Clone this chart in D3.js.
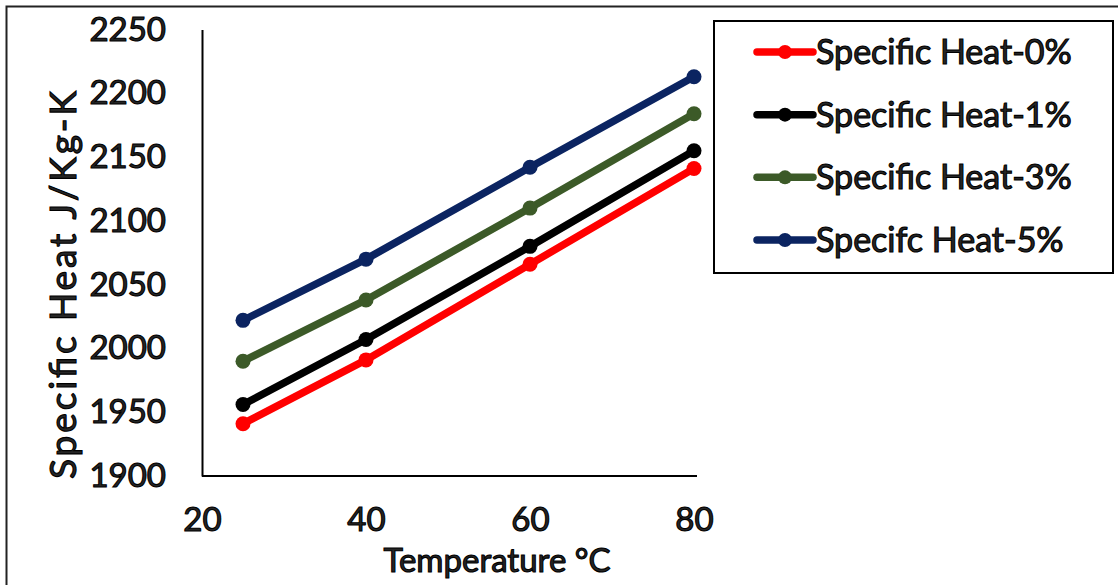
<!DOCTYPE html>
<html>
<head>
<meta charset="utf-8">
<script src="https://cdn.jsdelivr.net/npm/d3@7"></script>
<style>
  html, body { margin: 0; padding: 0; background: #fff; }
  svg { display: block; }
  text { font-family: Lato, "Open Sans", sans-serif; }
</style>
</head>
<body>
<svg id="chart" width="1118" height="585"></svg>
<script>
const temperatures = [25, 40, 60, 80];
const seriesNames = ["Specific Heat-0%", "Specific Heat-1%", "Specific Heat-3%", "Specifc Heat-5%"];
const heat0 = [1941, 1991, 2066, 2141];
const heat1 = [1956, 2007, 2080, 2155];
const heat3 = [1990, 2038, 2110, 2184];
const heat5 = [2022, 2070, 2142, 2213];
const seriesColors = ["#ff0000", "#000000", "#3c5a28", "#0b2461"];
const xTicks = [20, 40, 60, 80];
const yTicks = [1900, 1950, 2000, 2050, 2100, 2150, 2200, 2250];

const seriesValues = [heat0, heat1, heat3, heat5];

const svg = d3.select("#chart");

// outer frame
svg.append("rect").attr("x", 6.5).attr("y", 6.5).attr("width", 1130).attr("height", 600)
  .attr("fill", "none").attr("stroke", "#222").attr("stroke-width", 2);

const x = d3.scaleLinear().domain([20, 80]).range([202, 694]);
const y = d3.scaleLinear().domain([1900, 2250]).range([476, 29.5]);

const textStyle = sel => sel.attr("fill", "#262626").attr("stroke", "#000").attr("stroke-width", 1.1);

// axes
const xAxis = svg.append("g").attr("transform", "translate(0,476)")
  .call(d3.axisBottom(x).tickValues(xTicks).tickSize(0).tickPadding(32).tickFormat(d3.format("d")));
xAxis.select(".domain").attr("stroke", "#000").attr("stroke-width", 2).attr("d", "M202,0H697");
xAxis.selectAll("text").attr("font-size", 33).call(textStyle);

const yAxis = svg.append("g").attr("transform", "translate(202,0)")
  .call(d3.axisLeft(y).tickValues(yTicks).tickSize(0).tickPadding(36).tickFormat(d3.format("d")));
yAxis.select(".domain").attr("stroke", "#000").attr("stroke-width", 2);
yAxis.selectAll("text").attr("font-size", 33).call(textStyle);

// axis titles
svg.append("text").attr("x", 497).attr("y", 572).attr("text-anchor", "middle")
  .attr("font-size", 33).text("Temperature \u00B0C").call(textStyle);
svg.append("text").attr("transform", "translate(76,285) rotate(-90)").attr("text-anchor", "middle")
  .attr("font-size", 37).attr("textLength", 388).attr("lengthAdjust", "spacing")
  .text("Specific Heat J/Kg-K").call(textStyle);

// lines
const line = d3.line().x((d, i) => x(temperatures[i])).y(d => y(d));
seriesValues.forEach((vals, s) => {
  const g = svg.append("g");
  g.append("path").datum(vals).attr("d", line).attr("fill", "none")
    .attr("stroke", seriesColors[s]).attr("stroke-width", 7.5).attr("stroke-linecap", "round");
  g.selectAll("circle").data(vals).join("circle")
    .attr("cx", (d, i) => x(temperatures[i])).attr("cy", d => y(d)).attr("r", 7.5)
    .attr("fill", seriesColors[s]);
});

// legend
const legend = svg.append("g");
legend.append("rect").attr("x", 714).attr("y", 21).attr("width", 399).attr("height", 252)
  .attr("fill", "#fff").attr("stroke", "#000").attr("stroke-width", 2);
const legendY = d3.scalePoint().domain(seriesNames).range([52, 240]);
seriesNames.forEach((name, s) => {
  const cy = legendY(name);
  legend.append("line").attr("x1", 757).attr("x2", 813).attr("y1", cy).attr("y2", cy)
    .attr("stroke", seriesColors[s]).attr("stroke-width", 7.5).attr("stroke-linecap", "round");
  legend.append("circle").attr("cx", 785).attr("cy", cy).attr("r", 7).attr("fill", seriesColors[s]);
  legend.append("text").attr("x", 816).attr("y", cy + 12).attr("font-size", 34)
    .text(name).call(textStyle);
});
</script>
</body>
</html>
